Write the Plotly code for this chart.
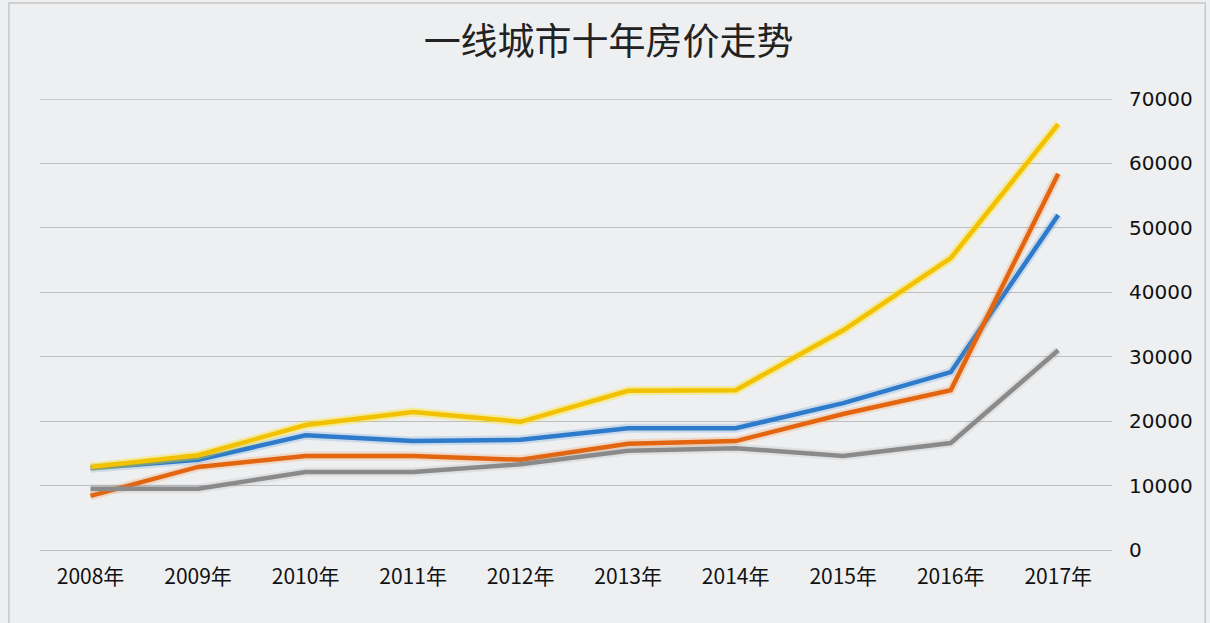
import plotly.graph_objects as go

years = ["2008年", "2009年", "2010年", "2011年", "2012年", "2013年", "2014年", "2015年", "2016年", "2017年"]
shanghai = [12700, 14000, 17800, 16900, 17100, 18900, 18900, 22800, 27600, 52000]
beijing = [8400, 12900, 14600, 14600, 14000, 16500, 16900, 21100, 24800, 58400]
guangzhou = [9500, 9500, 12100, 12100, 13300, 15400, 15800, 14600, 16600, 31000]
shenzhen = [12900, 14700, 19400, 21400, 19900, 24700, 24800, 34100, 45300, 66100]
y_ticks = [0, 10000, 20000, 30000, 40000, 50000, 60000, 70000]

series = [
    ("上海", shanghai, "#2E7BCB", "rgba(46,123,203,0.18)"),
    ("北京", beijing, "#E3650F", "rgba(240,140,60,0.22)"),
    ("广州", guangzhou, "#8A8A8A", "rgba(140,140,140,0.15)"),
    ("深圳", shenzhen, "#F2C200", "rgba(255,225,0,0.35)"),
]

fig = go.Figure()
for name, vals, color, glow in series:
    fig.add_trace(go.Scatter(x=years, y=vals, name=name + "_glow", mode="lines",
                             line=dict(color=glow, width=9), hoverinfo="skip"))
    fig.add_trace(go.Scatter(x=years, y=vals, name=name, mode="lines",
                             line=dict(color=color, width=4.5)))

fig.update_layout(
    width=1210, height=623,
    paper_bgcolor="#EEEFF1", plot_bgcolor="#EEEFF1",
    margin=dict(l=40, r=98, t=99, b=73),
    showlegend=False,
    title=dict(text="一线城市十年房价走势", x=0.503, xanchor="center", y=0.933, yanchor="middle",
               font=dict(family="Noto Sans CJK SC", size=37, color="#222222")),
    font=dict(family="Noto Sans CJK SC", color="#111111"),
)
fig.update_xaxes(type="category", range=[-0.47, 9.5], showgrid=False, zeroline=False,
                 showline=False, ticks="", ticklabelstandoff=12,
                 tickfont=dict(size=21, family="Noto Sans CJK SC", color="#111111"))
fig.update_yaxes(side="right", range=[0, 70000], tickvals=y_ticks,
                 ticktext=[str(v) for v in y_ticks],
                 showgrid=True, gridcolor="#BDBEC2", gridwidth=1.3,
                 zeroline=True, zerolinecolor="#BDBEC2", zerolinewidth=1.3,
                 showline=False, ticks="", ticklabelstandoff=16,
                 tickfont=dict(size=20, family="DejaVu Sans", color="#111111"))
fig.add_hline(y=y_ticks[-1], line=dict(color="#BDBEC2", width=1.3), layer="below")
fig.add_shape(type="rect", xref="paper", yref="paper", x0=-0.029, x1=1.087, y0=-0.25, y1=1.213,
              line=dict(color="#C8C8C8", width=1.5), fillcolor="rgba(0,0,0,0)", layer="below")
fig.write_html("out.html", config={"displayModeBar": False})

with open("out.html", "r", encoding="utf-8") as f:
    html = f.read()
html = html.replace("<head>", "<head><style>html,body{margin:0;padding:0;overflow:hidden;}</style>", 1)
with open("out.html", "w", encoding="utf-8") as f:
    f.write(html)
